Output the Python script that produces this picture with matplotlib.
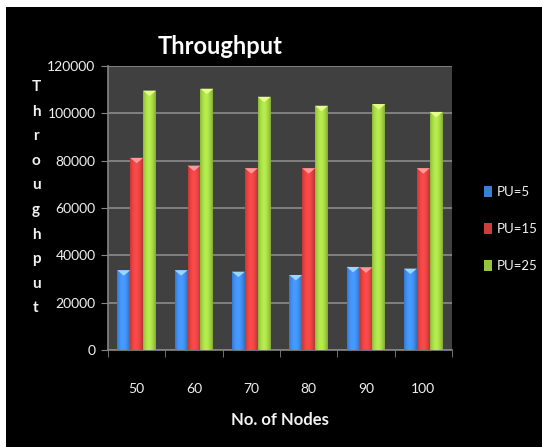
import numpy as np
import matplotlib
matplotlib.use("Agg")
import matplotlib.pyplot as plt
from matplotlib.patches import Rectangle, Polygon, Patch
from matplotlib.colors import to_rgb

nodes = ["50", "60", "70", "80", "90", "100"]
pu5 = [33700, 33700, 33100, 31700, 35100, 34400]
pu15 = [81200, 77900, 76800, 76800, 34900, 76800]
pu25 = [109600, 110400, 107000, 103200, 103900, 100600]
series = ["PU=5", "PU=15", "PU=25"]

BASE = ["#3a7fd6", "#cf3c3c", "#96c23e"]
CAP = ["#9ad6ff", "#ff9a9a", "#e6ff8c"]
BG = "#000000"
PLOT_BG = "#404040"
GRID = "#858585"
TXT = "#f2f2f2"

plt.rcParams["font.family"] = ["Lato", "DejaVu Sans"]

fig = plt.figure(figsize=(5.42, 4.47), dpi=100, facecolor="white")
# black panel (white strip on the top and left like the screenshot)
fig.patches.append(Rectangle((6 / 542, 0), 1, 1 - 7 / 447, transform=fig.transFigure,
                             facecolor=BG, edgecolor="none", zorder=-10))

ax = fig.add_axes([108 / 542, 1 - 350 / 447, 344 / 542, 284 / 447])
ax.set_facecolor(PLOT_BG)

x = np.arange(len(nodes))
w = 0.225
vals = [pu5, pu15, pu25]


def shade(col, t):
    c = np.array(to_rgb(col))
    f = 0.72 + 0.5 * np.sin(np.pi * (0.15 + 0.75 * t))
    return np.clip(c * f, 0, 1)


for i, (v, col, cap) in enumerate(zip(vals, BASE, CAP)):
    bars = ax.bar(x + (i - 1) * w, v, width=w, color=col, edgecolor="none", zorder=3)
    ts = np.linspace(0, 1, 40)
    grad = np.array([[shade(col, t) for t in ts]])
    for b in bars:
        x0, bw, h = b.get_x(), b.get_width(), b.get_height()
        im = ax.imshow(grad, extent=(x0, x0 + bw, 0, h), aspect="auto",
                       interpolation="bilinear", zorder=3.5)
        im.set_clip_path(b)
        d = 2300
        ax.add_patch(Polygon([(x0, h), (x0 + bw, h), (x0 + bw * 0.5, h - d)],
                             closed=True, facecolor=cap, edgecolor="none", zorder=4))

ax.set_xlim(-0.5, len(nodes) - 0.5)
ax.set_ylim(0, 120000)
ax.set_yticks(np.arange(0, 120001, 20000))
ax.set_yticklabels([str(t) for t in range(0, 120001, 20000)])
ax.yaxis.grid(True, color=GRID, lw=1.3, zorder=1)
ax.set_axisbelow(True)

ax.set_xticks(x)
ax.set_xticklabels(nodes)
ax.set_xticks(np.arange(-0.5, len(nodes)), minor=True)
ax.tick_params(axis="x", which="major", length=0, pad=24, colors=TXT, labelsize=10)
ax.tick_params(axis="x", which="minor", length=5, color=GRID, direction="out")
ax.tick_params(axis="y", length=5, color=GRID, colors=TXT, labelsize=10, pad=4)
for s in ["left", "bottom"]:
    ax.spines[s].set_color(GRID)
    ax.spines[s].set_linewidth(1.2)
for s in ["top", "right"]:
    ax.spines[s].set_visible(False)

ax.set_xlabel("No. of Nodes", color=TXT, fontsize=12, fontweight="bold", labelpad=12)

fig.text(220 / 542, 1 - 46 / 447, "Throughput", color="white", fontsize=17,
         fontweight="bold", ha="center", va="center")

# vertical, letter-stacked y label
ylab = "Throughput"
for k, ch in enumerate(ylab):
    fig.text(36 / 542, 1 - (87 + k * 24.6) / 447, ch, color=TXT, fontsize=11,
             fontweight="bold", ha="center", va="center")

handles = [Patch(facecolor=c, edgecolor="none") for c in BASE]
leg = fig.legend(handles, series, loc="center left",
                 bbox_to_anchor=(472 / 542, 1 - 229 / 447), frameon=False,
                 handlelength=0.6, handleheight=0.9, handletextpad=0.4,
                 labelspacing=1.9, fontsize=9.5)
for t in leg.get_texts():
    t.set_color(TXT)

fig.savefig("out.png", dpi=100, facecolor=fig.get_facecolor())
